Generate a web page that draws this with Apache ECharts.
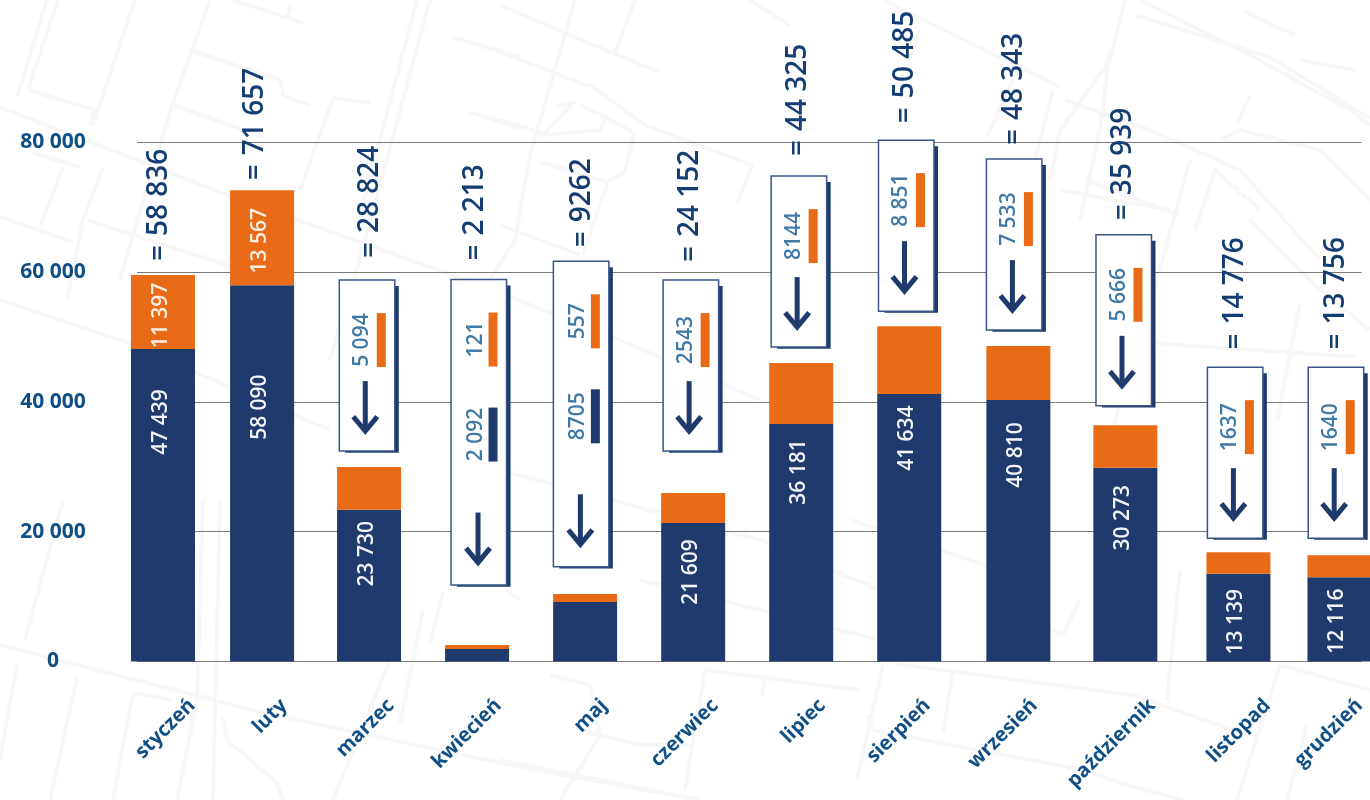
<!DOCTYPE html>
<html><head><meta charset="utf-8">
<style>html,body{margin:0;padding:0;background:#fff}#c{width:1370px;height:800px}</style>
<script src="https://cdn.jsdelivr.net/npm/echarts@6/dist/echarts.min.js"></script>
</head><body><div id="c"></div>
<script>
// ---- data ----
const months = ['styczeń','luty','marzec','kwiecień','maj','czerwiec','lipiec','sierpień','wrzesień','październik','listopad','grudzień'];
const yTicks = ['0','20 000','40 000','60 000','80 000'];
// bar heights as drawn, read against the y axis
const navyBars   = [48140,58000,23370,1900,9140,21320,36580,41200,40280,29840,13500,12990];
const orangeBars = [11410,14640,6580,620,1230,4620,9400,10480,8320,6580,3340,3390];
// figures as printed
const totalsText = ['58 836','71 657','28 824','2 213','9262','24 152','44 325','50 485','48 343','35 939','14 776','13 756'];
const navyText   = ['47 439','58 090','23 730','','','21 609','36 181','41 634','40 810','30 273','13 139','12 116'];
const orangeText = ['11 397','13 567','','','','','','','','','',''];
const boxOrangeText = ['','','5 094','121','557','2543','8144','8 851','7 533','5 666','1637','1640'];
const boxNavyText   = ['','','','2 092','8705','','','','','','',''];

// ---- layout ----
const monthSlots = [0,0.917,1.907,2.907,3.907,4.907,5.907,6.907,7.917,8.907,9.954,10.889];
const labelSlots = [0.269,1.120,2.111,3.102,4.083,5.111,6.102,7.074,8.065,9.157,10.222,11.074];
const boxGapPx   = [0,0,16,60,27.3,42,16,15,16,19.3,14,17];
const boxShiftPx = [0,0,-2,1.7,-4,-2.3,-2.3,-3,-4.2,-1.6,-3.3,-3.5];
const totalGapPx = [14,10,22,19,14,18,20,17,14,14.7,17.7,17.7];
const totalShiftPx = [-4,-7,1,-2,-3,-3,-3,-4,-4,-2,-3,-3];
const navyLabelDrop = [73,122,44,0,0,49,48,44,55,50,48,44];
const orangeLabelDrop = [40.5,50.5,0,0,0,0,0,0,0,0,0,0];
const mapStreets = [
 [[47,0],[17,97]],[[58,0],[28,90]],[[135,0],[93,125]],[[210,0],[173,103],[153,167],[120,280]],
 [[190,50],[280,80],[283,95],[310,106]],[[233,0],[303,23]],[[292,3],[287,17]],[[173,105],[263,137]],
 [[28,90],[95,110],[90,125]],[[0,107],[233,197],[467,280],[620,340],[760,400]],[[333,98],[370,103]],[[333,98],[300,190]],
 [[430,0],[367,233],[330,360]],[[417,0],[360,215]],[[452,37],[520,57]],[[470,112],[520,128]],[[0,217],[73,242]],
 [[33,153],[80,167]],[[103,167],[83,220],[67,300]],[[63,167],[40,227]],[[87,220],[233,267]],
 [[500,5],[563,32],[658,72]],[[575,0],[530,155],[515,240],[470,310]],[[635,0],[615,53]],
 [[500,52],[586,85],[590,85],[645,125],[752,165],[737,205]],[[558,105],[573,103],[542,135],[600,130],[606,117],[580,105]],
 [[606,117],[634,133],[625,172],[607,182],[540,162]],[[608,182],[583,255]],[[500,120],[542,133]],[[500,225],[580,255]],
 [[750,0],[790,25]],[[883,0],[1060,87]],[[920,30],[907,70]],[[987,137],[1013,80]],[[1053,90],[1030,180]],
 [[1125,0],[1110,60],[1060,130],[1050,180]],[[1110,50],[1100,130],[1080,220]],[[1065,100],[1150,130],[1240,170],[1320,260]],
 [[1140,0],[1250,55],[1350,110],[1370,125]],[[1135,15],[1270,57],[1370,118]],[[1245,12],[1295,35]],[[1300,60],[1355,70]],
 [[1250,95],[1238,122]],[[1220,140],[1240,130],[1320,150],[1370,200]],[[1195,230],[1215,170],[1260,210]],[[1060,190],[1170,210]],
 [[1085,180],[1180,215]],[[1190,160],[1140,340],[1100,470]],[[1150,343],[1357,357]],[[1300,303],[1277,420]],[[1250,220],[1317,287],[1370,330]],
 [[0,645],[260,712],[520,767],[700,800]],[[63,500],[25,640]],[[77,678],[50,800]],[[17,665],[0,760]],[[203,500],[197,700],[177,800]],[[220,500],[213,800]],
 [[133,693],[113,800]],[[133,693],[173,700]],[[223,717],[227,740],[277,783],[283,800]],[[390,660],[333,800]],[[423,610],[400,723]],[[443,592],[430,643]],
 [[507,590],[520,600]],[[550,675],[590,685],[600,735],[560,800]],[[705,670],[860,690]],[[705,670],[685,790]],[[765,675],[762,695]],[[580,730],[640,745],[690,745]],
 [[500,760],[700,800]],[[850,520],[1050,587]],[[897,664],[1017,680],[1133,695],[1233,730]],[[953,670],[943,732]],[[883,665],[857,780]],
 [[867,715],[873,730],[1083,770],[1127,785],[1183,800]],[[1280,665],[1370,690]],[[1280,665],[1237,800]],[[1180,570],[1167,700]],[[1080,600],[1063,634],[1050,630]],
 [[1307,725],[1287,800]],[[500,470],[760,540],[880,590]],[[0,300],[120,340],[330,430]],[[640,580],[800,620],[880,640]]
];

const navy='#1f3b6d', orange='#e96b17', labelBlue='#0f4f85', totalBlue='#133d73', boxText='#3f79a6';
const fontFamily='"Open Sans"';

function vText(x,y,text,size,fill,align){
  return {type:'text',x:x,y:y,rotation:Math.PI/2,z2:5,style:{text:text,fill:fill,font:'600 '+size+'px '+fontFamily,align:align||'center',verticalAlign:'middle'}};
}
function renderNotes(params,api){
  const i=params.dataIndex, top=api.coord([api.value(0),api.value(1)]), c=top[0], barTop=top[1];
  const boundary=api.coord([api.value(0),navyBars[i]])[1];
  const kids=[];
  let topOfStack=barTop;
  if(boxOrangeText[i]){
    const b=barTop-boxGapPx[i], tall=!!boxNavyText[i], h=tall?305.5:171, t=b-h, w=55.5, l=c+boxShiftPx[i]-w/2;
    kids.push({type:'rect',z2:1,shape:{x:l+6,y:t+6,width:w-2,height:h-4.3},style:{fill:navy}});
    kids.push({type:'rect',z2:2,shape:{x:l,y:t,width:w,height:h},style:{fill:'#fff',stroke:'#3a5488',lineWidth:1.5}});
    const barX=l+37.5, textX=l+(tall?25:23), arrowX=l+(tall?27:26);
    kids.push({type:'rect',z2:3,shape:{x:barX,y:t+33,width:9,height:54},style:{fill:orange}});
    kids.push(vText(textX,t+60,boxOrangeText[i],21,boxText));
    if(tall){
      kids.push({type:'rect',z2:3,shape:{x:barX,y:t+128,width:9,height:54},style:{fill:navy}});
      kids.push(vText(textX,t+155,boxNavyText[i],21,boxText));
    }
    const a0=t+(tall?233:101), tip=a0+53.5;
    kids.push({type:'line',z2:3,shape:{x1:arrowX,y1:a0,x2:arrowX,y2:tip-4},style:{stroke:navy,lineWidth:5}});
    kids.push({type:'polyline',z2:3,shape:{points:[[arrowX-12,tip-18],[arrowX,tip-3.5],[arrowX+12,tip-18]]},style:{stroke:navy,lineWidth:5,fill:null,lineJoin:'miter'}});
    topOfStack=t;
  }
  const tx=c+totalShiftPx[i], ty=topOfStack-totalGapPx[i];
  kids.push(vText(tx,ty,'=',28,totalBlue,'left'));
  kids.push(vText(tx,ty-25,totalsText[i],28,totalBlue,'left'));
  if(navyText[i]) kids.push(vText(c-2,boundary+navyLabelDrop[i],navyText[i],21,'#f2f4f8'));
  if(orangeText[i]) kids.push(vText(c-2,barTop+orangeLabelDrop[i],orangeText[i],21,'#fbeee3'));
  return {type:'group',children:kids};
}

const chart=echarts.init(document.getElementById('c'),null,{renderer:'canvas'});
const valueFirst=vals=>vals.map((v,i)=>[v,monthSlots[i]]);
chart.setOption({
  animation:false,
  backgroundColor:'#fff',
  graphic:{elements:mapStreets.map(p=>({type:'polyline',silent:true,z:-10,shape:{points:p},style:{stroke:'#f7f7f7',lineWidth:4,fill:null}}))},
  grid:{left:137,right:8.5,top:142.4,bottom:138.6,containLabel:false},
  xAxis:{type:'value',min:-0.2407,max:11.093,
    axisLine:{show:false},axisTick:{show:false},splitLine:{show:false},
    axisLabel:{customValues:labelSlots,rotate:45,align:'right',verticalAlign:'middle',margin:41,
      color:labelBlue,fontFamily:fontFamily,fontWeight:700,fontSize:20,
      formatter:(v,idx)=>months[labelSlots.indexOf(v)]}},
  yAxis:{type:'value',min:0,max:80000,interval:20000,
    axisLine:{show:false},axisTick:{show:false},
    splitLine:{show:true,lineStyle:{color:'#7a7a7a',width:1}},
    axisLabel:{align:'center',margin:84,color:labelBlue,fontFamily:fontFamily,fontWeight:700,fontSize:21,
      formatter:v=>yTicks[v/20000]}},
  series:[
    {type:'bar',name:'navy',stack:'m',barWidth:64,clip:false,encode:{x:1,y:0},itemStyle:{color:navy},data:valueFirst(navyBars)},
    {type:'bar',name:'orange',stack:'m',barWidth:64,clip:false,encode:{x:1,y:0},itemStyle:{color:orange},data:valueFirst(orangeBars)},
    {type:'custom',name:'notes',clip:false,z:5,renderItem:renderNotes,encode:{x:0,y:1},
      data:navyBars.map((v,i)=>[monthSlots[i],v+orangeBars[i]])}
  ]
});
</script></body></html>
